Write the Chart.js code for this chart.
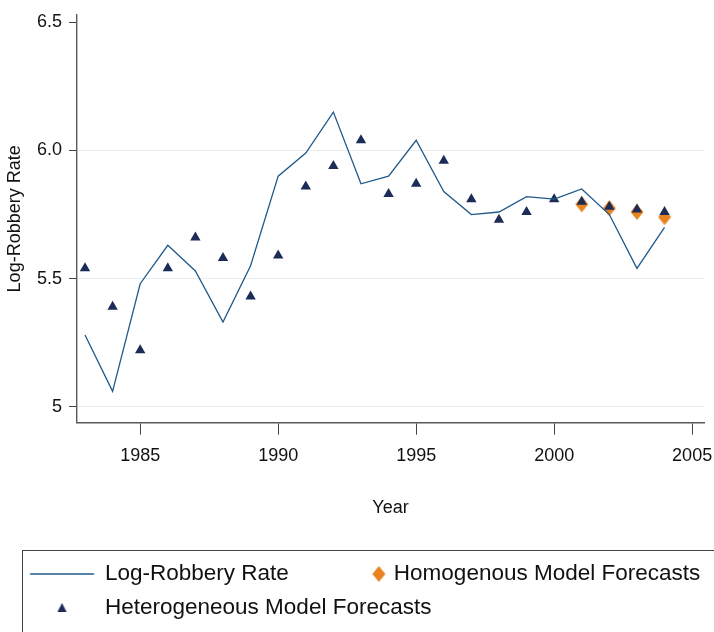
<!DOCTYPE html>
<html>
<head>
<meta charset="utf-8">
<script src="https://cdn.jsdelivr.net/npm/chart.js@4/dist/chart.umd.min.js"></script>
<style>
  html, body { margin: 0; padding: 0; background: #ffffff; }
  #wrap { width: 714px; height: 632px; }
</style>
</head>
<body>
<div id="wrap"><canvas id="c" width="714" height="632"></canvas></div>
<script>
// ---- data ----
const years = [1983, 1984, 1985, 1986, 1987, 1988, 1989, 1990, 1991, 1992, 1993,
               1994, 1995, 1996, 1997, 1998, 1999, 2000, 2001, 2002, 2003, 2004];
const logRobbery = [5.28, 5.06, 5.48, 5.63, 5.53, 5.33, 5.55, 5.90, 5.99, 6.15, 5.87,
                    5.90, 6.04, 5.84, 5.75, 5.76, 5.82, 5.81, 5.85, 5.75, 5.54, 5.70];
const heteroForecast = [5.54, 5.39, 5.22, 5.54, 5.66, 5.58, 5.43, 5.59, 5.86, 5.94, 6.04,
                        5.83, 5.87, 5.96, 5.81, 5.73, 5.76, 5.81, 5.80, 5.78, 5.77, 5.76];
const homoYears = [2001, 2002, 2003, 2004];
const homoForecast = [5.79, 5.775, 5.76, 5.74];
const xTickValues = [1985, 1990, 1995, 2000, 2005];
const xTickLabels = ['1985', '1990', '1995', '2000', '2005'];
const yTickValues = [5, 5.5, 6, 6.5];
const yTickLabels = ['5', '5.5', '6.0', '6.5'];
const seriesNames = ['Log-Robbery Rate', 'Homogenous Model Forecasts', 'Heterogeneous Model Forecasts'];

// ---- styles ----
const LINE_COLOR = '#1f5a8a';
const TRI_COLOR = '#1c2b57';
const DIA_COLOR = '#e8841f';
const FONT = "'Liberation Sans', Arial, Helvetica, sans-serif";

function makeCanvas(w, h, draw) {
  const c = document.createElement('canvas');
  c.width = w; c.height = h;
  draw(c.getContext('2d'));
  return c;
}
// plot diamond marker (taller than wide)
const diamondMarker = makeCanvas(14, 17, ctx => {
  ctx.fillStyle = DIA_COLOR;
  ctx.beginPath();
  ctx.moveTo(7, 0.5); ctx.lineTo(13.5, 8.5); ctx.lineTo(7, 16.5); ctx.lineTo(0.5, 8.5);
  ctx.closePath(); ctx.fill();
});
// legend symbols (wide canvases centred on the legend box centre)
const legLine = makeCanvas(100, 20, ctx => {
  ctx.strokeStyle = LINE_COLOR; ctx.lineWidth = 1.3;
  ctx.beginPath(); ctx.moveTo(27.4, 10); ctx.lineTo(91.4, 10); ctx.stroke();
});
const legTri = makeCanvas(100, 20, ctx => {
  ctx.fillStyle = TRI_COLOR;
  ctx.beginPath(); ctx.moveTo(59.4, 5); ctx.lineTo(64, 14); ctx.lineTo(54.8, 14);
  ctx.closePath(); ctx.fill();
});
const legDia = makeCanvas(100, 20, ctx => {
  ctx.fillStyle = DIA_COLOR;
  ctx.beginPath(); ctx.moveTo(87.4, 2); ctx.lineTo(93.9, 10); ctx.lineTo(87.4, 18); ctx.lineTo(80.9, 10);
  ctx.closePath(); ctx.fill();
});

const legendFrame = {
  id: 'legendFrame',
  afterDraw(chart) {
    const ctx = chart.ctx;
    ctx.save();
    ctx.strokeStyle = '#444444';
    ctx.lineWidth = 1;
    ctx.strokeRect(22.5, 550.5, 760, 200);
    ctx.restore();
  }
};

Chart.defaults.font.family = FONT;
Chart.defaults.color = '#111111';

new Chart(document.getElementById('c'), {
  type: 'line',
  data: {
    datasets: [
      {
        label: seriesNames[0],
        data: years.map((x, i) => ({ x: x, y: logRobbery[i] })),
        borderColor: LINE_COLOR,
        borderWidth: 1.3,
        pointRadius: 0,
        fill: false,
        tension: 0
      },
      {
        label: seriesNames[2],
        data: years.map((x, i) => ({ x: x, y: heteroForecast[i] })),
        showLine: false,
        pointStyle: 'triangle',
        pointRadius: 6,
        pointBackgroundColor: TRI_COLOR,
        pointBorderColor: TRI_COLOR,
        pointBorderWidth: 0
      },
      {
        label: seriesNames[1],
        data: homoYears.map((x, i) => ({ x: x, y: homoForecast[i] })),
        showLine: false,
        pointStyle: diamondMarker,
        pointRadius: 7,
        pointBackgroundColor: DIA_COLOR,
        pointBorderWidth: 0
      }
    ]
  },
  options: {
    responsive: false,
    animation: false,
    devicePixelRatio: 1,
    layout: { padding: { left: 0, right: 0, top: 15, bottom: 2.75 } },
    plugins: {
      tooltip: { enabled: false },
      legend: {
        position: 'bottom',
        align: 'start',
        labels: {
          usePointStyle: true,
          pointStyleWidth: 82.25,
          padding: 11.5,
          color: '#111111',
          font: { size: 22.5, family: FONT },
          generateLabels(chart) {
            const order = [0, 2, 1];
            const icons = [legLine, legTri, legDia];
            return order.map(i => ({
              text: chart.data.datasets[i].label,
              pointStyle: icons[i],
              fillStyle: 'rgba(0,0,0,0)',
              strokeStyle: 'rgba(0,0,0,0)',
              lineWidth: 0,
              hidden: false,
              fontColor: '#111111',
              datasetIndex: i
            }));
          }
        }
      }
    },
    scales: {
      x: {
        type: 'linear',
        min: 1982.71,
        max: 2005.43,
        afterBuildTicks(scale) { scale.ticks = xTickValues.map(v => ({ value: v })); },
        afterFit(scale) {
          scale.height = 128.55;
          scale.paddingLeft = 0;
          scale.paddingRight = 10;
        },
        ticks: {
          callback: (v, i) => xTickLabels[i],
          font: { size: 18 },
          color: '#111111',
          padding: 11,
          maxRotation: 0
        },
        grid: {
          drawOnChartArea: false,
          drawTicks: true,
          tickLength: 12,
          tickColor: '#444444',
          tickWidth: 1
        },
        border: { display: true, color: '#5a5a5a', width: 1.4 },
        title: {
          display: true,
          text: 'Year',
          font: { size: 18 },
          color: '#111111',
          padding: { top: 0, bottom: 32.45 }
        }
      },
      y: {
        type: 'linear',
        min: 4.9375,
        max: 6.529,
        afterBuildTicks(scale) { scale.ticks = yTickValues.map(v => ({ value: v })); },
        afterFit(scale) {
          scale.width = 77;
          scale.paddingTop = 0;
          scale.paddingBottom = 0;
        },
        ticks: {
          callback: (v, i) => yTickLabels[i],
          font: { size: 18 },
          color: '#111111',
          padding: 7
        },
        grid: {
          drawOnChartArea: true,
          color: ctx => (ctx.tick && ctx.tick.value === 6.5) ? 'rgba(0,0,0,0)' : '#e6eef2',
          lineWidth: 1,
          tickLength: 8,
          tickColor: '#444444',
          tickWidth: 1
        },
        border: { display: true, color: '#5a5a5a', width: 1.4 },
        title: {
          display: true,
          text: 'Log-Robbery Rate',
          font: { size: 18 },
          color: '#111111',
          padding: { top: 4.2, bottom: 0 }
        }
      }
    }
  },
  plugins: [legendFrame]
});
</script>
</body>
</html>
